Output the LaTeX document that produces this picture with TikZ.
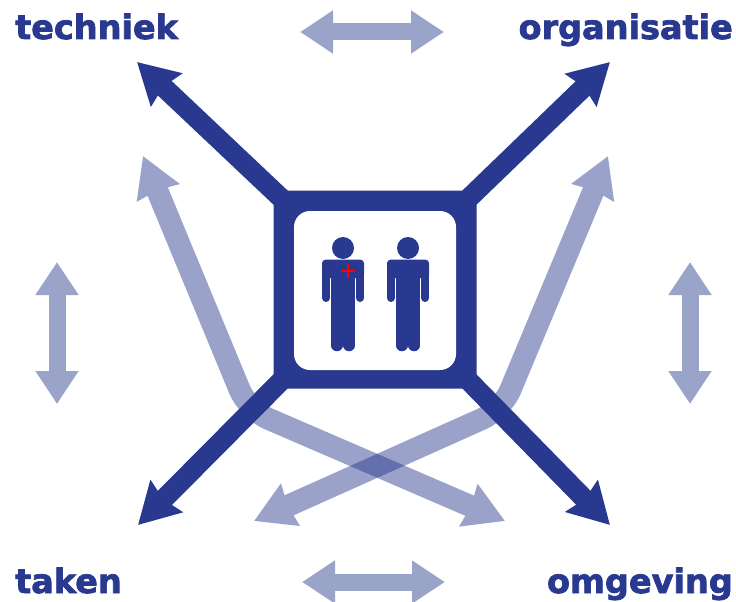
\documentclass[tikz,border=0pt]{standalone}
\usepackage{fontspec}
\setmainfont{DejaVu Sans}
\newfontfamily\titelfont{DejaVu Sans Bold}[FakeBold=2.2]
\usetikzlibrary{arrows.meta}
\definecolor{donker}{HTML}{28398F}
\definecolor{licht}{HTML}{9AA3C8}
\tikzset{
  titel/.style={inner sep=0, text=donker, font=\fontsize{33.5}{34}\titelfont},
  hoofdpijl/.style={draw=donker, line width=20pt, -{Stealth[length=40pt, width=44pt, inset=4pt]}},
  zijpijl/.style={draw=donker, line width=22pt, rounded corners=22pt, {Stealth[length=39pt, width=44pt, inset=2pt]}-{Stealth[length=39pt, width=44pt, inset=2pt]}},
  dubbelpijl/.style={draw=licht, line width=17pt, {Stealth[length=33pt, width=41pt, inset=0pt]}-{Stealth[length=33pt, width=41pt, inset=0pt]}},
  kaderbox/.style={fill=donker, rounded corners=5pt, inner sep=0, minimum width=203pt, minimum height=198pt},
  vensterbox/.style={fill=white, rounded corners=16pt, inner sep=0, minimum width=162pt, minimum height=159pt},
  persoon/.pic={
    \fill [donker] (0, -42) circle (11);
    \fill [donker, rounded corners=4pt] (-21, -30.5) rectangle (21, -12);
    \fill [donker] (-12, -26) rectangle (12, 24);
    \draw [donker, line width=8pt, line cap=round] (-17, -26) -- (-17, 8);
    \draw [donker, line width=8pt, line cap=round] (17, -26) -- (17, 8);
    \draw [donker, line width=11.5pt, line cap=round] (-6.2, 15) -- (-6.2, 55.5);
    \draw [donker, line width=11.5pt, line cap=round] (6.2, 15) -- (6.2, 55.5);
  }
}
\begin{document}
\begin{tikzpicture}[x=1pt, y=-1pt]
    \useasboundingbox (0, 0) rectangle (736, 602);

    \coordinate (linksboven) at (143, 156);
    \coordinate (rechtsboven) at (608, 156);
    \coordinate (kruislinks) at (254, 521);
    \coordinate (kruisrechts) at (505, 521);

    \begin{scope}[transparency group, opacity=0.47]
      \draw [zijpijl] (linksboven) -- (248, 410) -- (kruisrechts);
    \end{scope}
    \begin{scope}[transparency group, opacity=0.47]
      \draw [zijpijl] (rechtsboven) -- (502, 410) -- (kruislinks);
    \end{scope}

    \node [kaderbox] (kader) at (375, 289.5) {};

    \coordinate (pijlNW) at (137, 62);
    \coordinate (pijlNO) at (610, 62);
    \coordinate (pijlZW) at (138, 525);
    \coordinate (pijlZO) at (610, 525);
    \draw [hoofdpijl] (kader.north west) ++(8, 8) -- (pijlNW);
    \draw [hoofdpijl] (kader.north east) ++(-8, 8) -- (pijlNO);
    \draw [hoofdpijl] (kader.south west) ++(8, -8) -- (pijlZW);
    \draw [hoofdpijl] (kader.south east) ++(-8, -8) -- (pijlZO);

    \node [vensterbox] (venster) at (375, 290.5) {};

    \pic at (343, 290) {persoon};
    \pic at (408, 290) {persoon};
    \draw [red, line width=2pt] (341, 271) -- (355, 271);
    \draw [red, line width=2pt] (348, 264) -- (348, 278);

    \coordinate (bovenL) at (300, 32);
    \coordinate (bovenR) at (444, 32);
    \coordinate (onderL) at (302, 582);
    \coordinate (onderR) at (445, 582);
    \coordinate (linksB) at (57, 262);
    \coordinate (linksO) at (57, 404);
    \coordinate (rechtsB) at (690, 262);
    \coordinate (rechtsO) at (690, 404);
    \draw [dubbelpijl] (bovenL) -- (bovenR);
    \draw [dubbelpijl] (onderL) -- (onderR);
    \draw [dubbelpijl] (linksB) -- (linksO);
    \draw [dubbelpijl] (rechtsB) -- (rechtsO);

    \node [titel, anchor=base west] (techniek) at (15, 39) {techniek};
    \node [titel, anchor=base east] (organisatie) at (733, 39) {organisatie};
    \node [titel, anchor=base west] (taken) at (15, 593) {taken};
    \node [titel, anchor=base east] (omgeving) at (733, 593) {omgeving};
  \end{tikzpicture}
\end{document}
